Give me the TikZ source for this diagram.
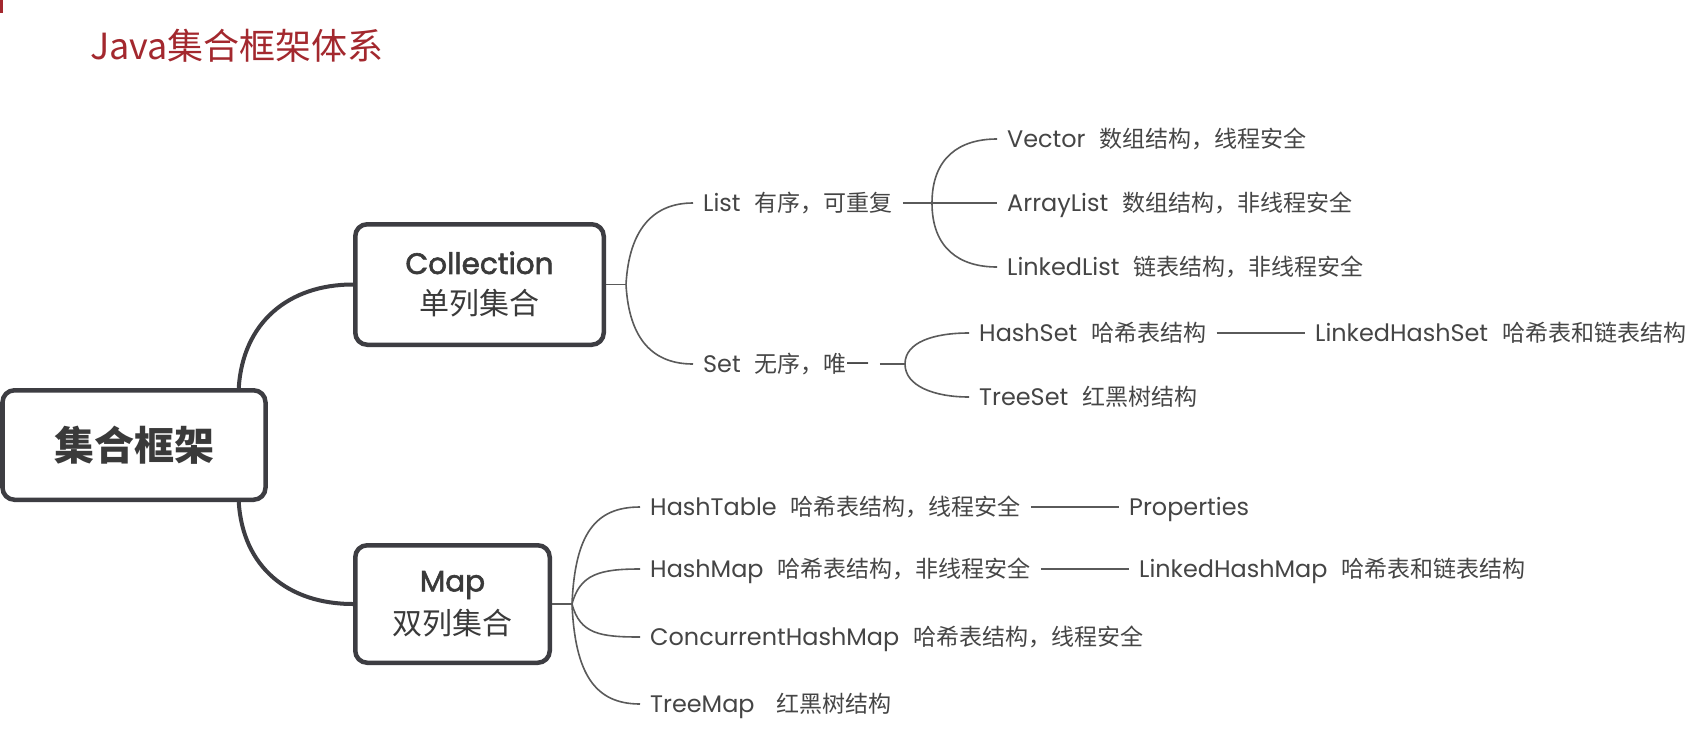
\documentclass[tikz,border=0pt]{standalone}
\usepackage{fontspec}
\setmainfont{Noto Sans CJK SC}
\newfontfamily\cjk{Noto Sans CJK SC}
\newfontfamily\lat{Poppins}[Scale=1.04]
\newfontfamily\latm{Poppins}[FakeBold=2]
\newcommand\mylbl[2]{{\lat #1}\hspace{14pt}{\cjk #2}}
\definecolor{boxc}{HTML}{3D3D42}
\definecolor{linec}{HTML}{5A5A5A}
\definecolor{lblc}{HTML}{454545}
\definecolor{boxtext}{HTML}{3A3A3A}
\definecolor{titlered}{HTML}{A3282E}
\begin{document}
\begin{tikzpicture}[x=1pt,y=-1pt,
  box/.style={draw=boxc, line width=4.5pt, rounded corners=12pt, fill=white, text=boxtext, inner sep=0pt, align=center},
  lbl/.style={anchor=west, inner xsep=10pt, inner ysep=0pt, text height=20pt, text depth=3pt, text=lblc, font=\fontsize{23}{26}\selectfont},
  trunk/.style={draw=boxc, line width=4pt},
  twig/.style={draw=linec, line width=1.6pt}]
\fill[white] (0,0) rectangle (1700,731);
\useasboundingbox (0,0) rectangle (1700,731);
\fill[titlered] (0,0) rectangle (2.5,13);
\node[anchor=west, inner sep=0pt, text=titlered, font=\cjk\fontsize{36}{40}\selectfont] (title) at (90,46) {Java集合框架体系};

\node[box, minimum width=263pt, minimum height=109.5pt, font=\cjk\bfseries\fontsize{40}{44}\selectfont] (root) at (134,445) {集合框架};
\node[box, minimum width=248.5pt, minimum height=120.5pt, font=\fontsize{30}{41}\selectfont] (coll) at (479.5,284.5) {{\latm\fontsize{29.5}{41}\selectfont Collection}\\{\cjk 单列集合}};
\node[box, minimum width=194.5pt, minimum height=117.5pt, font=\fontsize{30}{43}\selectfont] (map) at (452.5,604) {{\latm\fontsize{29.5}{43}\selectfont Map}\\{\cjk 双列集合}};

\node[lbl] (list) at (693,203) {\mylbl{List}{有序，可重复}};
\node[lbl] (set) at (693,364) {\mylbl{Set}{无序，唯一}};
\node[lbl] (vec) at (997,139) {\mylbl{Vector}{数组结构，线程安全}};
\node[lbl] (al) at (997,203) {\mylbl{ArrayList}{数组结构，非线程安全}};
\node[lbl] (ll) at (997,267) {\mylbl{LinkedList}{链表结构，非线程安全}};
\node[lbl] (hs) at (969,333) {\mylbl{HashSet}{哈希表结构}};
\node[lbl] (lhs) at (1305,333) {\mylbl{LinkedHashSet}{哈希表和链表结构}};
\node[lbl] (ts) at (969,397) {\mylbl{TreeSet}{红黑树结构}};
\node[lbl] (ht) at (640,507) {\mylbl{HashTable}{哈希表结构，线程安全}};
\node[lbl] (prop) at (1119,507) {\lat Properties};
\node[lbl] (hm) at (640,569) {\mylbl{HashMap}{哈希表结构，非线程安全}};
\node[lbl] (lhm) at (1129,569) {\mylbl{LinkedHashMap}{哈希表和链表结构}};
\node[lbl] (chm) at (640,637) {\mylbl{ConcurrentHashMap}{哈希表结构，线程安全}};
\node[lbl] (tm) at (640,704) {{\lat TreeMap}\hspace{22pt}{\cjk 红黑树结构}};

\coordinate (cb) at (626,284.5);
\coordinate (lb) at (932,203);
\coordinate (sb) at (905,364);
\coordinate (mb) at (572,604);

\draw[trunk] ([xshift=-29pt]root.north east) .. controls +(4,-65) and +(-65,0) .. (coll.west);
\draw[trunk] ([xshift=-29pt]root.south east) .. controls +(4,65) and +(-65,0) .. (map.west);

\draw[twig] (coll.east) -- (cb);
\draw[twig] (cb) .. controls +(3,-55) and +(-40,0) .. (list.west);
\draw[twig] (cb) .. controls +(3,55) and +(-40,0) .. (set.west);
\draw[twig] (list.east) -- (al.west);
\draw[twig] (lb) .. controls +(0,-45) and +(-38,0) .. (vec.west);
\draw[twig] (lb) .. controls +(0,45) and +(-38,0) .. (ll.west);
\draw[twig] (set.east) -- (sb);
\draw[twig] (sb) .. controls +(0,-22) and +(-35,0) .. (hs.west);
\draw[twig] (sb) .. controls +(0,22) and +(-35,0) .. (ts.west);
\draw[twig] (hs.east) -- (lhs.west);

\draw[twig] (map.east) -- (mb);
\draw[twig] (mb) .. controls +(3,-70) and +(-45,0) .. (ht.west);
\draw[twig] (mb) .. controls +(8,-30) and +(-40,0) .. (hm.west);
\draw[twig] (mb) .. controls +(8,30) and +(-40,0) .. (chm.west);
\draw[twig] (mb) .. controls +(3,70) and +(-45,0) .. (tm.west);
\draw[twig] (ht.east) -- (prop.west);
\draw[twig] (hm.east) -- (lhm.west);
\end{tikzpicture}
\end{document}
